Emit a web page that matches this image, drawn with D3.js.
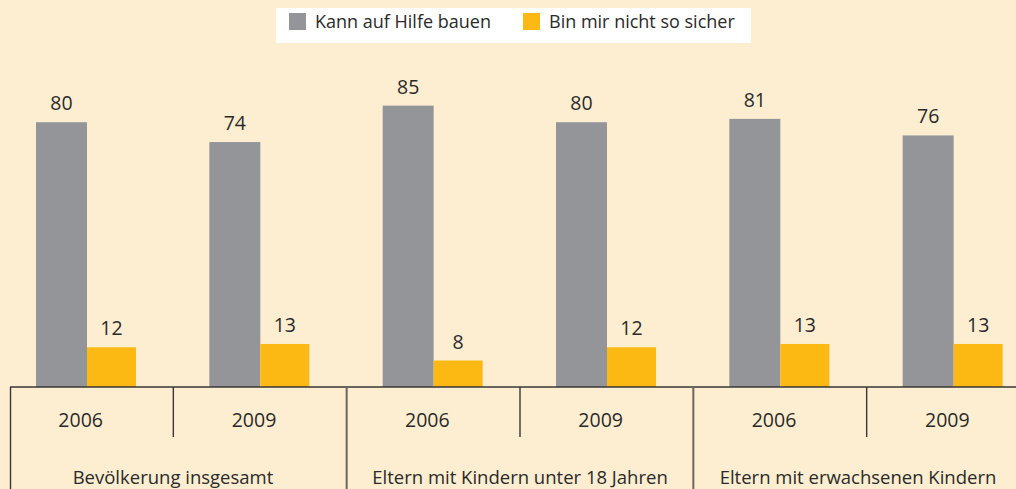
<!DOCTYPE html>
<html>
<head>
<meta charset="utf-8">
<script src="https://cdn.jsdelivr.net/npm/d3@7"></script>
<style>
  body { margin: 0; background: #fdeed1; }
  svg { display: block; }
  text { font-family: "Open Sans", sans-serif; fill: #2b2a29; }
</style>
</head>
<body>
<div id="chart"></div>
<script>
var groups = ["Bevölkerung insgesamt", "Eltern mit Kindern unter 18 Jahren", "Eltern mit erwachsenen Kindern"];
var years = ["2006", "2009", "2006", "2009", "2006", "2009"];
var kann = [80, 74, 85, 80, 81, 76];
var nicht = [12, 13, 8, 12, 13, 13];
var seriesNames = ["Kann auf Hilfe bauen", "Bin mir nicht so sicher"];
var colors = ["#939598", "#fdb913"];

var width = 1016, height = 489;
var base = 387;

var svg = d3.select("#chart").append("svg")
  .attr("width", width)
  .attr("height", height);

svg.append("rect")
  .attr("width", width)
  .attr("height", height)
  .attr("fill", "#fdeed1");

//scales
var x = d3.scaleBand()
  .domain(d3.range(years.length))
  .range([0, 1040]);

var y = d3.scaleLinear()
  .domain([0, 100])
  .range([base, 56]);

var barW = 51;
var offset = 36;

//grey bars
svg.selectAll("rect.kann")
  .data(kann)
  .enter().append("rect")
  .attr("class", "kann")
  .attr("x", function (d, i) { return x(i) + offset; })
  .attr("y", function (d) { return y(d); })
  .attr("width", barW)
  .attr("height", function (d) { return base - y(d); })
  .attr("fill", colors[0]);

//orange bars
svg.selectAll("rect.nicht")
  .data(nicht)
  .enter().append("rect")
  .attr("class", "nicht")
  .attr("x", function (d, i) { return x(i) + offset + barW; })
  .attr("y", function (d) { return y(d); })
  .attr("width", barW - 2)
  .attr("height", function (d) { return base - y(d); })
  .attr("fill", colors[1]);

//value labels
svg.selectAll("text.kann")
  .data(kann)
  .enter().append("text")
  .attr("class", "kann")
  .attr("x", function (d, i) { return x(i) + offset + barW / 2; })
  .attr("y", function (d) { return y(d) - 12; })
  .attr("text-anchor", "middle")
  .attr("font-size", 19.5)
  .text(function (d) { return d; });

svg.selectAll("text.nicht")
  .data(nicht)
  .enter().append("text")
  .attr("class", "nicht")
  .attr("x", function (d, i) { return x(i) + offset + barW * 1.5 - 1; })
  .attr("y", function (d) { return y(d) - 12; })
  .attr("text-anchor", "middle")
  .attr("font-size", 19.5)
  .text(function (d) { return d; });

//axis frame
svg.append("line")
  .attr("x1", 10).attr("x2", width)
  .attr("y1", base).attr("y2", base)
  .attr("stroke", "#3a3634").attr("stroke-width", 1.6);

svg.append("line")
  .attr("x1", 10.5).attr("x2", 10.5)
  .attr("y1", base).attr("y2", height)
  .attr("stroke", "#3a3634").attr("stroke-width", 1.4);

svg.selectAll("line.sep")
  .data(d3.range(1, years.length))
  .enter().append("line")
  .attr("class", "sep")
  .attr("x1", function (d) { return x(d); })
  .attr("x2", function (d) { return x(d); })
  .attr("y1", base)
  .attr("y2", function (d) { return d % 2 == 0 ? height : 437; })
  .attr("stroke", function (d) { return d % 2 == 0 ? "#6b6560" : "#3a3634"; })
  .attr("stroke-width", function (d) { return d % 2 == 0 ? 2 : 1.4; });

//year labels
svg.selectAll("text.year")
  .data(years)
  .enter().append("text")
  .attr("class", "year")
  .attr("x", function (d, i) { return x(i) + x.bandwidth() / 2 - 6; })
  .attr("y", 427)
  .attr("text-anchor", "middle")
  .attr("font-size", 19.5)
  .text(function (d) { return d; });

//group labels
var groupX = [173, 520, 858];
svg.selectAll("text.group")
  .data(groups)
  .enter().append("text")
  .attr("class", "group")
  .attr("x", function (d, i) { return groupX[i]; })
  .attr("y", 484)
  .attr("text-anchor", "middle")
  .attr("font-size", 18.5)
  .text(function (d) { return d; });

//legend
var legend = svg.append("g");
legend.append("rect")
  .attr("x", 276).attr("y", 8)
  .attr("width", 475).attr("height", 35)
  .attr("fill", "#ffffff");

var legX = [289, 523];
legend.selectAll("rect.key")
  .data(seriesNames)
  .enter().append("rect")
  .attr("class", "key")
  .attr("x", function (d, i) { return legX[i]; })
  .attr("y", 13)
  .attr("width", 17)
  .attr("height", 17)
  .attr("fill", function (d, i) { return colors[i]; });

legend.selectAll("text.key")
  .data(seriesNames)
  .enter().append("text")
  .attr("class", "key")
  .attr("x", function (d, i) { return legX[i] + 26; })
  .attr("y", 28)
  .attr("font-size", 18)
  .text(function (d) { return d; });
</script>
</body>
</html>
